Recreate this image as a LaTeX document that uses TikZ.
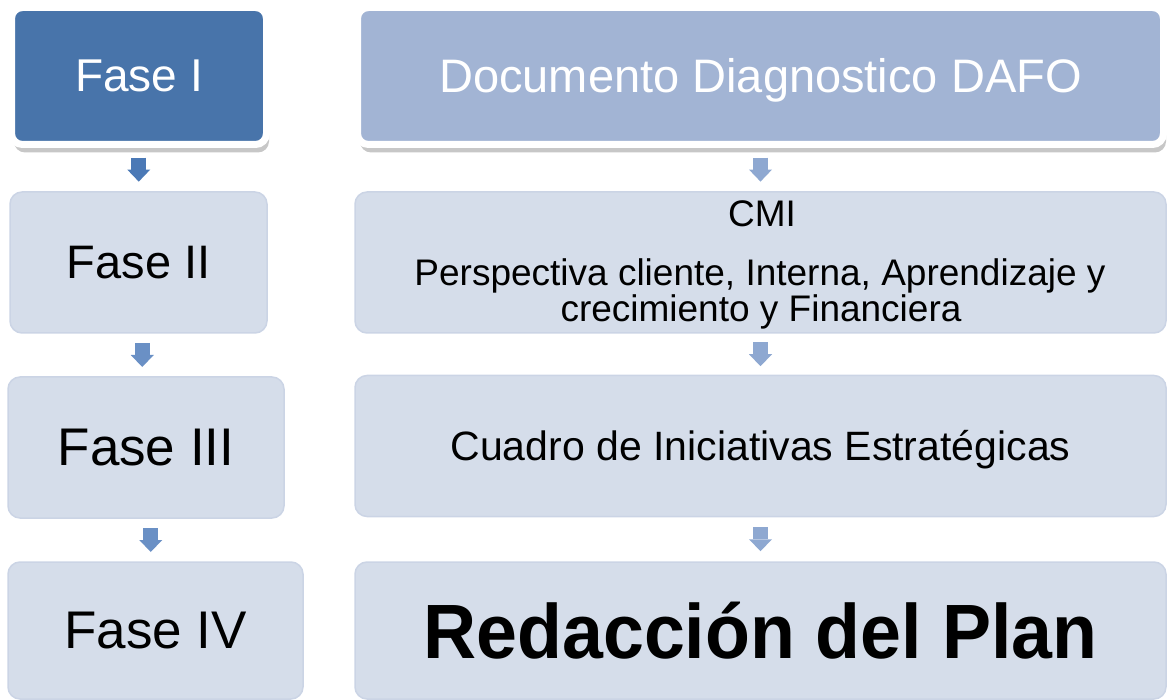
\documentclass[tikz,border=0pt]{standalone}
\usepackage{fontspec}
\setmainfont{Liberation Sans}
\usetikzlibrary{shadows,arrows.meta,calc}

\definecolor{azulfuerte}{HTML}{4874AA}
\definecolor{azulmedio}{HTML}{A2B4D4}
\definecolor{azulclaro}{HTML}{D5DDEA}
\definecolor{bordeclaro}{HTML}{CBD4E5}
\definecolor{flechaA}{HTML}{4B79B6}
\definecolor{flechaB}{HTML}{6A90C5}
\definecolor{flechaC}{HTML}{8EA8D1}

\tikzset{
  caja/.style={rectangle, rounded corners=12pt, fill=azulclaro, draw=bordeclaro,
    line width=1.5pt, text=black, inner sep=0pt},
  cajafuerte/.style={rectangle, rounded corners=11pt, draw=white, line width=7pt,
    text=white, inner sep=0pt,
    drop shadow={shadow xshift=2.5pt, shadow yshift=-8pt, opacity=.22, fill=black}},
  flecha/.style={line width=15pt, -{Triangle[width=23pt, length=12pt, line width=0pt]}},
}

\begin{document}
\begin{tikzpicture}[x=1pt, y=-1pt]
  \useasboundingbox (0,0) rectangle (1168,700);
  % columna izquierda
  \node[cajafuerte, fill=azulfuerte, minimum width=255pt, minimum height=137pt,
    font=\fontsize{46}{50}\selectfont] (fase1) at (139,76) {Fase I};
  \node[caja, minimum width=257pt, minimum height=141pt,
    font=\fontsize{47}{50}\selectfont] (fase2) at (138.5,262.5) {Fase II};
  \node[caja, minimum width=276pt, minimum height=141pt,
    font=\fontsize{53}{56}\selectfont] (fase3) at (146,447.5) {Fase III};
  \node[caja, minimum width=295pt, minimum height=137pt,
    font=\fontsize{53}{56}\selectfont] (fase4) at (155.5,630.5) {Fase IV};
  % columna derecha
  \node[cajafuerte, fill=azulmedio, minimum width=806pt, minimum height=137pt,
    text height=34pt, text depth=0pt,
    font=\fontsize{47}{50}\selectfont] (dafo) at (760.5,76) {Documento Diagnostico DAFO};
  \node[caja, minimum width=811pt, minimum height=141pt] (cmi) at (760.5,262.5) {};
  \node[anchor=base, font=\fontsize{37}{40}\selectfont] (cmitit) at (762,227) {CMI};
  \node[anchor=base, font=\fontsize{37}{40}\selectfont] (persp1) at (760,286)
    {Perspectiva cliente, Interna, Aprendizaje y};
  \node[anchor=base, font=\fontsize{37}{40}\selectfont] (persp2) at (761,322)
    {crecimiento y Financiera};
  \node[caja, minimum width=811pt, minimum height=141pt, text height=29pt, text depth=0pt,
    font=\fontsize{41}{44}\selectfont] (cuadro) at (760.5,446)
    {Cuadro de Iniciativas Estratégicas};
  \node[caja, minimum width=811pt, minimum height=137pt, text height=55pt, text depth=0pt,
    font=\fontsize{77}{80}\selectfont\bfseries] (plan) at (760.5,630.5)
    {\scalebox{.955}[1]{Redacción del Plan}};
  % flechas
  \coordinate (m1) at ($(fase1.south)!.5!(fase2.north)$);
  \coordinate (m2) at ($(fase2.south)!.5!(fase3.north)$);
  \coordinate (m3) at ($(fase3.south)!.5!(fase4.north)$);
  \coordinate (n1) at ($(dafo.south)!.5!(cmi.north)$);
  \coordinate (n2) at ($(cmi.south)!.5!(cuadro.north)$);
  \coordinate (n3) at ($(cuadro.south)!.5!(plan.north)$);
  \draw[flecha, flechaA] ([yshift=12pt]m1) -- ([yshift=-12pt]m1);
  \foreach \m in {m2,m3} {
    \draw[flecha, flechaB] ([yshift=12pt]\m) -- ([yshift=-12pt]\m);
  };
  \foreach \n in {n1,n2,n3} {
    \draw[flecha, flechaC] ([yshift=12pt]\n) -- ([yshift=-12pt]\n);
  };
\end{tikzpicture}
\end{document}
